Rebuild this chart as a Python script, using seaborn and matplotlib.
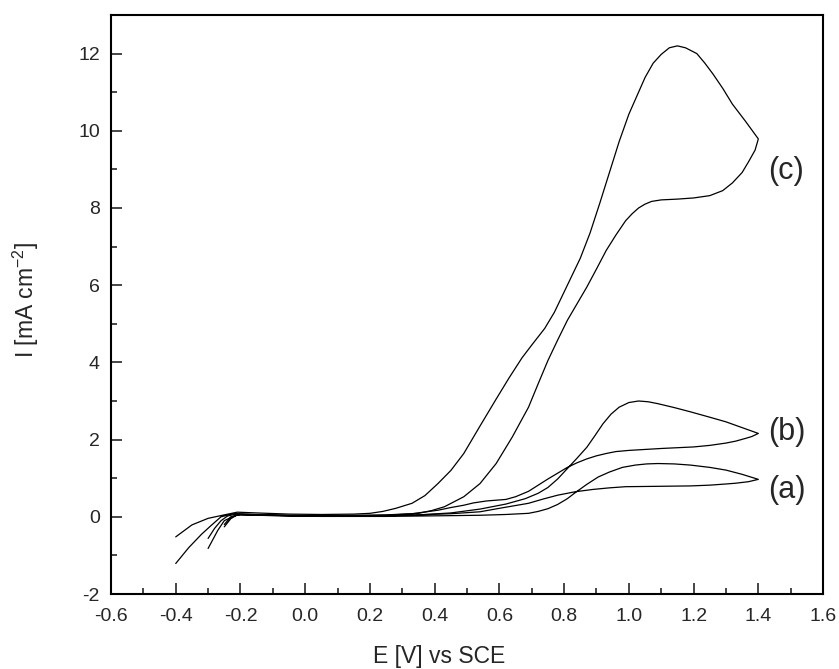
import matplotlib
matplotlib.use("Agg")
import matplotlib.pyplot as plt
import numpy as np
import pandas as pd
import seaborn as sns
from matplotlib.ticker import MultipleLocator

# curve (c): forward (peaked) and reverse branches
C_FWD_E = [-0.40, -0.35, -0.30, -0.25, -0.21, -0.15, -0.05, 0.05, 0.15, 0.20, 0.24, 0.28,
           0.33, 0.37, 0.41, 0.45, 0.49, 0.54, 0.59, 0.63, 0.67, 0.70, 0.74, 0.77, 0.81,
           0.85, 0.88, 0.91, 0.94, 0.97, 1.00, 1.03, 1.05, 1.075, 1.10, 1.125, 1.15,
           1.175, 1.21, 1.235, 1.26, 1.29, 1.32, 1.36, 1.40]
C_FWD_I = [-0.52, -0.21, -0.04, 0.05, 0.12, 0.10, 0.07, 0.06, 0.07, 0.09, 0.14, 0.22,
           0.35, 0.55, 0.86, 1.20, 1.64, 2.35, 3.05, 3.60, 4.12, 4.45, 4.88, 5.30, 6.00,
           6.70, 7.35, 8.12, 8.92, 9.72, 10.43, 11.00, 11.38, 11.75, 11.98, 12.15, 12.20,
           12.15, 12.00, 11.75, 11.47, 11.10, 10.69, 10.25, 9.79]
C_REV_E = [1.40, 1.39, 1.37, 1.35, 1.32, 1.29, 1.25, 1.20, 1.15, 1.10, 1.07, 1.05, 1.03,
           1.01, 0.99, 0.96, 0.93, 0.90, 0.87, 0.84, 0.81, 0.78, 0.75, 0.72, 0.69, 0.64,
           0.59, 0.54, 0.49, 0.43, 0.39, 0.35, 0.25, 0.15, 0.05, -0.05, -0.15, -0.22,
           -0.26, -0.29, -0.32, -0.36, -0.40]
C_REV_I = [9.79, 9.50, 9.20, 8.92, 8.65, 8.45, 8.32, 8.26, 8.23, 8.21, 8.17, 8.10, 8.00,
           7.85, 7.67, 7.30, 6.90, 6.42, 5.95, 5.52, 5.09, 4.58, 4.05, 3.45, 2.84, 2.07,
           1.38, 0.86, 0.52, 0.26, 0.16, 0.09, 0.04, 0.02, 0.02, 0.03, 0.05, 0.08,
           0.00, -0.22, -0.45, -0.80, -1.21]

# curve (b)
B_FWD_E = [-0.30, -0.28, -0.26, -0.24, -0.21, -0.15, -0.05, 0.05, 0.15, 0.25, 0.35, 0.45,
           0.54, 0.62, 0.68, 0.72, 0.75, 0.78, 0.81, 0.84, 0.87, 0.895, 0.92, 0.945, 0.97,
           1.00, 1.03, 1.06, 1.09, 1.14, 1.19, 1.25, 1.30, 1.35, 1.40]
B_FWD_I = [-0.56, -0.30, -0.10, 0.02, 0.08, 0.06, 0.04, 0.03, 0.03, 0.03, 0.05, 0.10,
           0.20, 0.33, 0.47, 0.61, 0.76, 0.98, 1.25, 1.52, 1.80, 2.10, 2.41, 2.66, 2.84,
           2.96, 3.00, 2.98, 2.93, 2.83, 2.72, 2.58, 2.46, 2.31, 2.16]
B_REV_E = [1.40, 1.38, 1.36, 1.33, 1.30, 1.25, 1.20, 1.10, 1.00, 0.96, 0.93, 0.90, 0.87,
           0.84, 0.81, 0.78, 0.75, 0.72, 0.69, 0.65, 0.62, 0.59, 0.56, 0.52, 0.49, 0.45,
           0.41, 0.33, 0.25, 0.15, 0.05, -0.05, -0.15, -0.21, -0.25, -0.27, -0.30]
B_REV_I = [2.16, 2.08, 2.03, 1.96, 1.91, 1.85, 1.81, 1.77, 1.72, 1.69, 1.64, 1.58, 1.50,
           1.40, 1.28, 1.13, 0.98, 0.82, 0.66, 0.52, 0.45, 0.43, 0.41, 0.36, 0.30, 0.24,
           0.17, 0.08, 0.05, 0.04, 0.03, 0.03, 0.04, 0.06, -0.10, -0.35, -0.82]

# curve (a)
A_FWD_E = [-0.25, -0.23, -0.21, -0.15, -0.05, 0.05, 0.15, 0.25, 0.35, 0.45, 0.54, 0.62,
           0.69, 0.72, 0.75, 0.78, 0.81, 0.835, 0.87, 0.905, 0.94, 0.98, 1.02, 1.055,
           1.09, 1.14, 1.19, 1.25, 1.30, 1.35, 1.40]
A_FWD_I = [-0.26, -0.05, 0.05, 0.04, 0.02, 0.01, 0.01, 0.01, 0.02, 0.03, 0.04, 0.06,
           0.09, 0.14, 0.21, 0.32, 0.47, 0.63, 0.84, 1.03, 1.16, 1.28, 1.34, 1.37,
           1.38, 1.37, 1.34, 1.28, 1.21, 1.10, 0.97]
A_REV_E = [1.40, 1.37, 1.33, 1.30, 1.25, 1.19, 1.09, 0.99, 0.94, 0.89, 0.835, 0.78, 0.735,
           0.69, 0.60, 0.54, 0.45, 0.35, 0.25, 0.15, 0.05, -0.05, -0.15, -0.20, -0.23,
           -0.25]
A_REV_I = [0.97, 0.91, 0.87, 0.85, 0.82, 0.80, 0.79, 0.78, 0.75, 0.71, 0.65, 0.56, 0.46,
           0.35, 0.22, 0.13, 0.08, 0.05, 0.03, 0.02, 0.02, 0.03, 0.05, 0.06, 0.00,
           -0.20]

CURVE_LABELS = ["(a)", "(b)", "(c)"]
LABEL_E = [1.43, 1.43, 1.43]
LABEL_I = [0.69, 2.19, 8.97]

sns.set_style("ticks")
plt.rcParams["font.family"] = ["Liberation Sans", "DejaVu Sans"]
plt.rcParams["mathtext.fontset"] = "custom"
plt.rcParams["mathtext.rm"] = "Liberation Sans"
plt.rcParams["mathtext.it"] = "Liberation Sans:italic"

branches = {
    "(a)": (A_FWD_E + A_REV_E, A_FWD_I + A_REV_I),
    "(b)": (B_FWD_E + B_REV_E, B_FWD_I + B_REV_I),
    "(c)": (C_FWD_E + C_REV_E, C_FWD_I + C_REV_I),
}
frames = []
for name, (e, i) in branches.items():
    frames.append(pd.DataFrame({"E": e, "I": i, "curve": name, "step": np.arange(len(e))}))
df = pd.concat(frames, ignore_index=True)

fig = plt.figure(figsize=(8.39, 6.69), dpi=100)
ax = fig.add_axes([0.1323, 0.1121, 0.8487, 0.8655])
sns.lineplot(data=df, x="E", y="I", units="curve", estimator=None, sort=False,
             color="black", linewidth=0.9, ax=ax, legend=False)

for lab, xe, yi in zip(CURVE_LABELS, LABEL_E, LABEL_I):
    ax.text(xe, yi, lab, fontsize=22, ha="left", va="center")

ax.set_xlim(-0.6, 1.6)
ax.set_ylim(-2, 13)
ax.xaxis.set_minor_locator(MultipleLocator(0.1))
ax.yaxis.set_minor_locator(MultipleLocator(1))
ax.set_xticks(np.arange(-0.6, 1.61, 0.2))
ax.set_xticklabels([f"{v:.1f}" for v in np.arange(-0.6, 1.61, 0.2)])
ax.set_yticks(np.arange(-2, 13, 2))
ax.set_yticklabels([f"{v:d}" for v in range(-2, 13, 2)])
ax.tick_params(which="both", direction="in", top=False, right=False, width=1.2)
ax.tick_params(which="major", length=8, labelsize=14)
ax.tick_params(axis="x", which="major", pad=10)
ax.tick_params(axis="y", which="major", pad=8)
ax.tick_params(which="minor", length=4.5)
for side in ["left", "bottom", "top", "right"]:
    ax.spines[side].set_visible(True)
    ax.spines[side].set_linewidth(1.5)
    ax.spines[side].set_color("black")

ax.set_xlabel("E [V] vs SCE", fontsize=16.5)
ax.set_ylabel("I [mA cm$^{-2}$]", fontsize=16.5)
ax.xaxis.set_label_coords(0.461, -0.088)
ax.yaxis.set_label_coords(-0.098, 0.508)

fig.savefig("out.png", dpi=100)
